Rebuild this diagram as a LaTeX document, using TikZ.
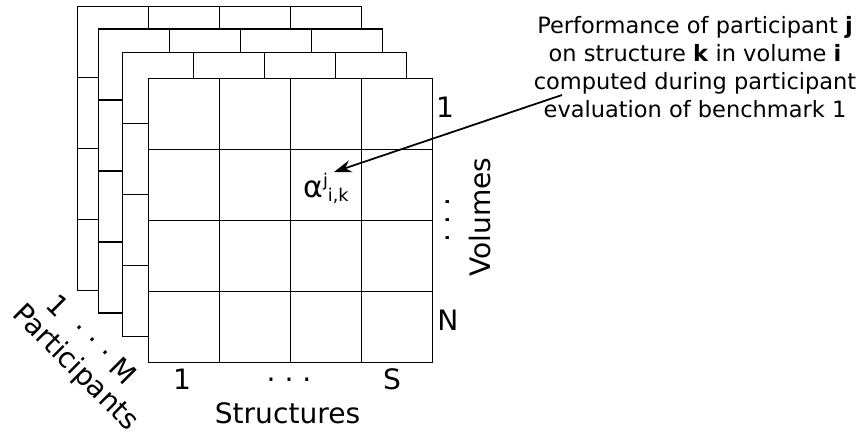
\documentclass[tikz,border=0pt]{standalone}
\usepackage{fontspec}
\setmainfont{DejaVu Sans}
\usetikzlibrary{arrows.meta}

\begin{document}
\begin{tikzpicture}[
    x=0.02cm, y=-0.02cm,
    grid/.style={draw=black, line width=0.8pt},
    lbl/.style={font=\fontsize{16}{19}\selectfont, inner sep=0pt},
    arr/.style={-{Stealth[length=10pt, width=7pt]}, line width=1pt},
    note/.style={font=\fontsize{12.8}{15.9}\selectfont, align=center, inner sep=0pt}
]
    \useasboundingbox (0,0) rectangle (861,432);
    % participant layers, drawn back to front
    \foreach \ox/\oy in {77.3/6.7, 98.7/29, 122.3/52.3, 148.7/78.3} {
        \begin{scope}[shift={(\ox,\oy)}]
            \fill[white] (0,0) rectangle (284,284);
            \foreach \c in {71,142,213} {
                \draw[grid] (\c,0) -- (\c,284);
                \draw[grid] (0,\c) -- (284,\c);
            }
            \draw[grid] (0,0) rectangle (284,284);
        \end{scope}
    }

    \node[lbl, anchor=base] (row1) at (445,118) {1};
    \node[lbl, rotate=90] (vdots) at (452,220) {· · ·};
    \node[lbl, anchor=base] (rowN) at (448,330) {N};
    \node[lbl, rotate=90, anchor=base] (volumes) at (490,217) {Volumes};

    \node[lbl, anchor=base] (col1) at (182,389) {1};
    \node[lbl, anchor=base] (hdots) at (289,389) {· · ·};
    \node[lbl, anchor=base] (colS) at (392,389) {S};
    \node[lbl, anchor=base] (structures) at (287.5,423) {Structures};

    \node[lbl, rotate=-45] (prange) at (92,339) {1 \ · · · M};
    \node[lbl, rotate=-45] (participants) at (75,368) {Participants};

    \node[lbl, anchor=base west, font=\fontsize{17}{20}\selectfont] (alpha) at (303,197)
        {α\raisebox{6.2pt}{\fontsize{10}{10}\selectfont j}\raisebox{-2.8pt}{\fontsize{10}{10}\selectfont i,k}};

    \node[note] (perf) at (695,67.5) {Performance of participant \textbf{j}\\
        on structure \textbf{k} in volume \textbf{i}\\
        computed during participant\\
        evaluation of benchmark 1};
    \coordinate (tail) at (562,95);
    \draw[arr] (tail) -- ([shift={(31,-25)}]alpha.base west);
\end{tikzpicture}
\end{document}
